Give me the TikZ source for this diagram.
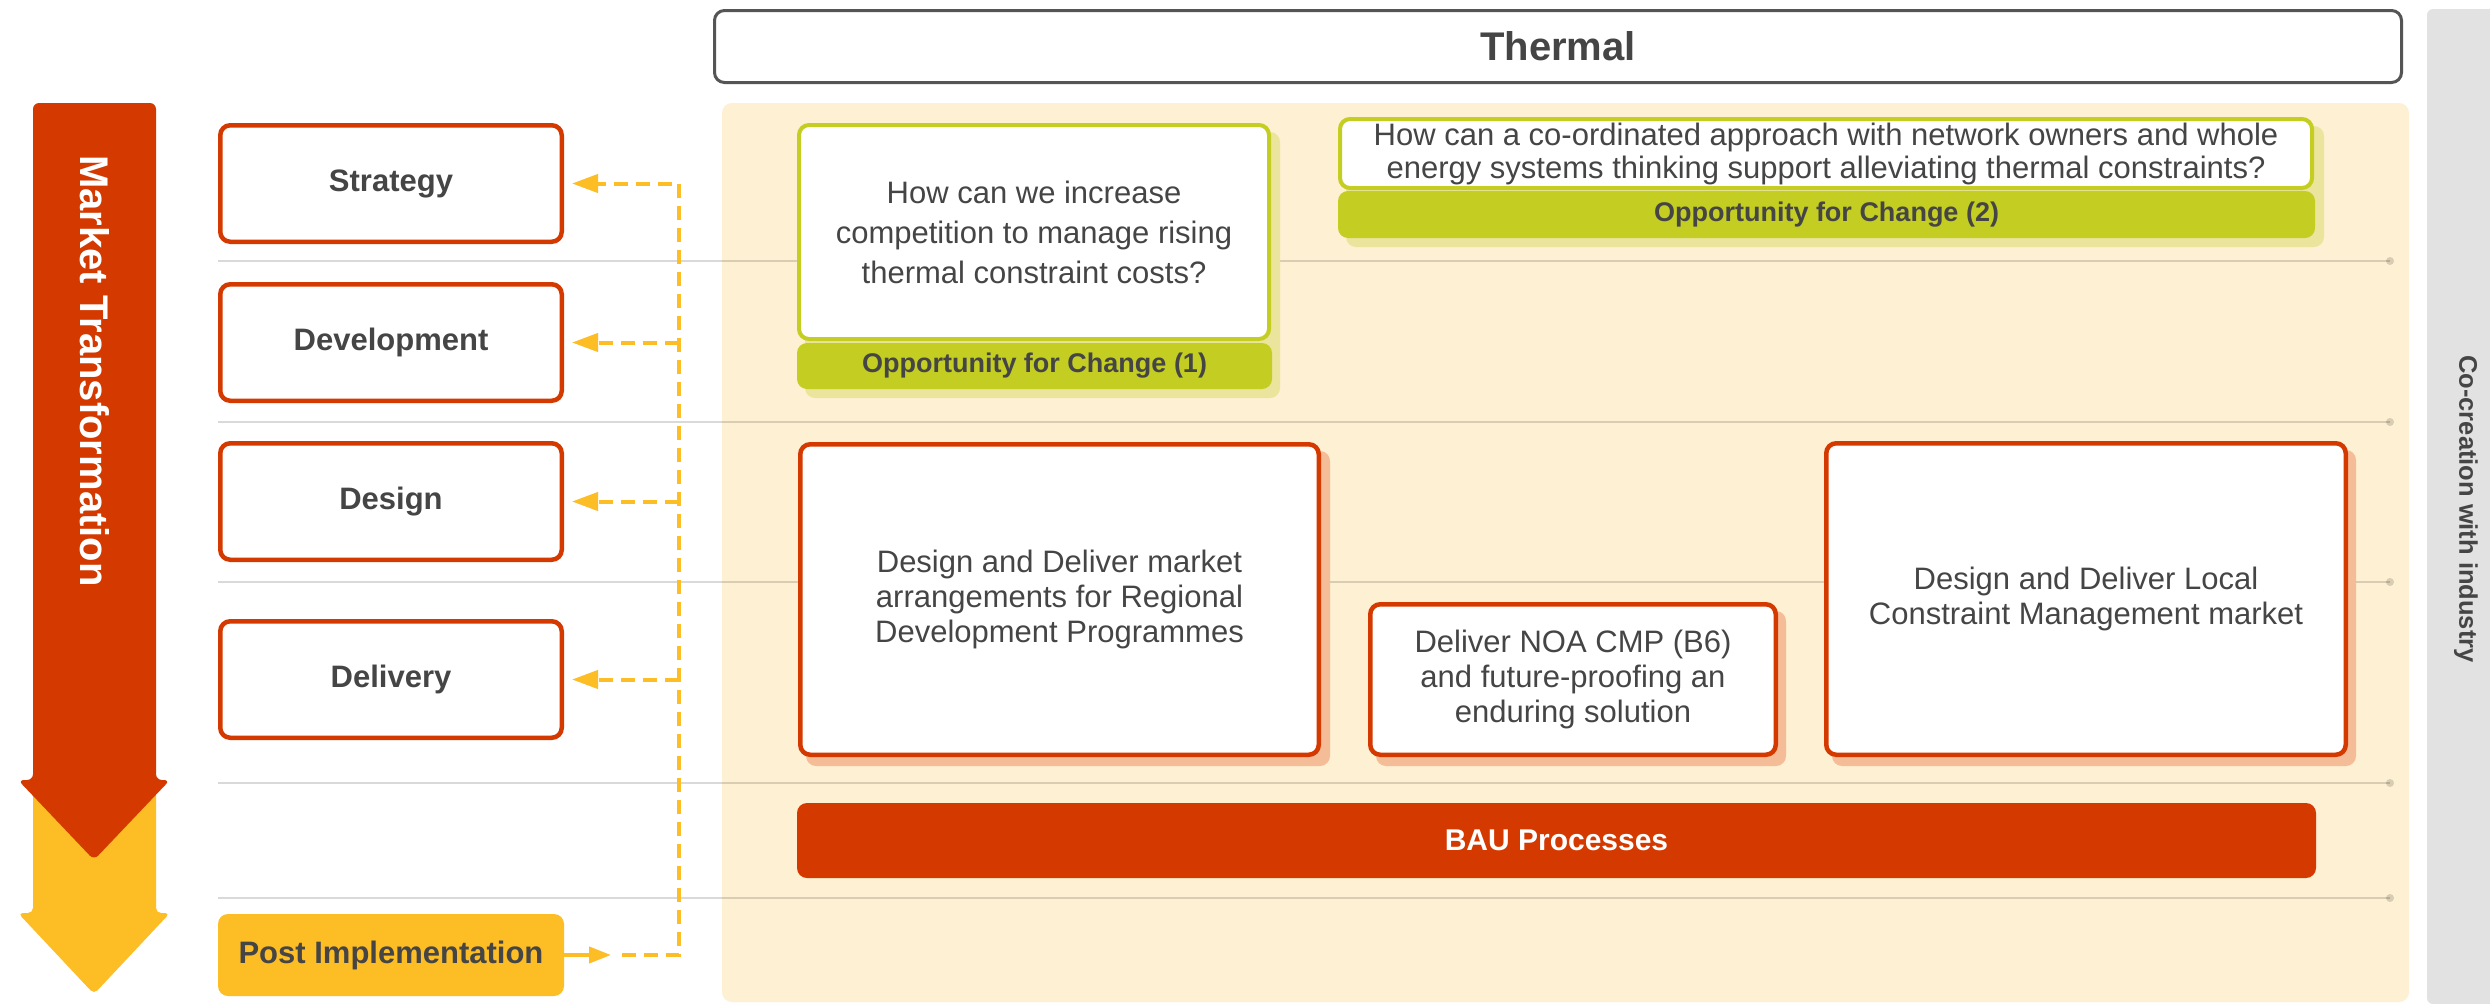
\documentclass[tikz,border=0pt]{standalone}
\usepackage{fontspec}
\setmainfont{Liberation Sans}
\setsansfont{Liberation Sans}
\usetikzlibrary{arrows.meta}
\definecolor{mred}{HTML}{D43900}
\definecolor{myel}{HTML}{FDBD24}
\definecolor{cream}{HTML}{FEF0D2}
\definecolor{mgreen}{HTML}{C3CD22}
\definecolor{shgreen}{HTML}{EBE49C}
\definecolor{shred}{HTML}{F5BC98}
\definecolor{barg}{HTML}{E2E2E2}
\definecolor{txt}{HTML}{454545}
\definecolor{thb}{HTML}{555555}
\begin{document}
\begin{tikzpicture}[x=1pt,y=-1pt,
  stagebox/.style={draw=mred, line width=4.5pt, fill=white, rounded corners=10pt,
    minimum width=341.5pt, minimum height=116.5pt, inner sep=0pt,
    font=\bfseries\fontsize{31}{37}\selectfont, text=txt},
  oppbox/.style={draw=mgreen, line width=4pt, fill=white, rounded corners=10pt,
    inner sep=0pt, align=center, text=txt},
  opplabel/.style={fill=mgreen, rounded corners=10pt, inner sep=0pt,
    font=\bfseries\fontsize{27}{30}\selectfont, text=txt},
  actbox/.style={draw=mred, line width=4.5pt, fill=white, rounded corners=10pt,
    inner sep=0pt, align=center, text=txt, font=\fontsize{31}{35}\selectfont},
  gline/.style={line width=2.5pt, draw=black, draw opacity=0.15},
  gdot/.style={fill=black, fill opacity=0.15},
  dashy/.style={draw=myel, line width=4pt, dash pattern=on 14pt off 8pt},
  tipy/.style={-{Triangle[length=26pt,width=18pt]}},
]
\useasboundingbox (0,0) rectangle (2490,1004);
\fill[white] (0,0) rectangle (2490,1004);

% right bar
\fill[barg, rounded corners=6pt] (2427,9) rectangle (2500,1004);
\node[rotate=-90, text=txt, font=\bfseries\fontsize{25.5}{30}\selectfont] (cocr) at (2466,509) {Co-creation with industry};

% cream background
\fill[cream, rounded corners=10pt] (722,103) rectangle (2409,1002);

% grey swimlane lines
\foreach \yy in {261,422,582,783,898}{
  \draw[gline] (218,\yy) -- (2390,\yy);
  \fill[gdot] (2390,\yy) circle (4);
}

% Thermal header
\node[draw=thb, line width=3pt, fill=white, rounded corners=10pt, minimum width=1687pt,
  minimum height=72pt, inner sep=0pt, text=txt, font=\bfseries\fontsize{40}{46}\selectfont]
  (thermal) at (1558,46.5) {Thermal};

% Market transformation arrow
\fill[myel, rounded corners=5pt] (33,790) -- (33,913) -- (18,913) -- (94,994) -- (170,913) -- (156,913) -- (156,790) -- cycle;
\fill[mred, rounded corners=6pt] (33,780) -- (33,103) -- (156,103) -- (156,780) -- (170,780) -- (94,860) -- (18,780) -- cycle;
\node[rotate=-90, text=white, font=\bfseries\fontsize{40}{46}\selectfont] (mt) at (95,371) {Market Transformation};

% stage boxes
\node[stagebox] (strat) at (391,183.5) {Strategy};
\node[stagebox] (devel) at (391,342.5) {Development};
\node[stagebox] (design) at (391,501.5) {Design};
\node[stagebox] (deliv) at (391,679.5) {Delivery};
\node[fill=myel, rounded corners=10pt, minimum width=346pt, minimum height=82pt, inner sep=0pt,
  text=txt, font=\bfseries\fontsize{31}{37}\selectfont] (post) at (391,955) {Post Implementation};

% feedback connectors
\coordinate (pa) at (611,955);
\coordinate (pd) at (622,955);
\coordinate (jb) at (679,955);
\coordinate (jt) at (679,183.5);
\draw[myel, line width=4pt, -{Triangle[length=22pt,width=16pt]}] (post.east) -- (pa);
\draw[dashy, tipy, shorten >=8pt] (pd) -- (jb) -- (jt) -- (strat.east);
\draw[dashy, tipy, shorten >=8pt] (jb |- devel.east) -- (devel.east);
\draw[dashy, tipy, shorten >=8pt] (jb |- design.east) -- (design.east);
\draw[dashy, tipy, shorten >=8pt] (jb |- deliv.east) -- (deliv.east);

% Opportunity 1
\fill[shgreen, rounded corners=10pt] (805,132) rectangle (1280,398);
\node[oppbox, minimum width=470pt, minimum height=214pt, font=\fontsize{31}{40}\selectfont]
  (opp1) at (1034,232) {How can we increase\\competition to manage rising\\thermal constraint costs?};
\node[opplabel, minimum width=475pt, minimum height=46pt] (opp1l) at (1034.5,366) {Opportunity for Change (1)};

% Opportunity 2
\fill[shgreen, rounded corners=10pt] (1346,126) rectangle (2324,247);
\node[oppbox, minimum width=972pt, minimum height=69pt, font=\fontsize{31}{33}\selectfont]
  (opp2) at (1826,153.5) {How can a co-ordinated approach with network owners and whole\\energy systems thinking support alleviating thermal constraints?};
\node[opplabel, minimum width=977pt, minimum height=47pt] (opp2l) at (1826.5,214.5) {Opportunity for Change (2)};

% activity boxes
\fill[shred, rounded corners=10pt] (806,451) rectangle (1330,766);
\fill[shred, rounded corners=10pt] (1376,611) rectangle (1786,766);
\fill[shred, rounded corners=10pt] (1832,450) rectangle (2356,766);
\node[actbox, minimum width=518.5pt, minimum height=310.5pt] (rdp) at (1059.5,599.5)
  {Design and Deliver market\\arrangements for Regional\\Development Programmes};
\node[actbox, minimum width=405.5pt, minimum height=150.5pt] (noa) at (1573,679.5)
  {Deliver NOA CMP (B6)\\and future-proofing an\\enduring solution};
\node[actbox, minimum width=519.5pt, minimum height=311.5pt] (lcm) at (2086,599)
  {Design and Deliver Local\\Constraint Management market};

% BAU
\node[fill=mred, rounded corners=10pt, minimum width=1519pt, minimum height=75pt, inner sep=0pt,
  text=white, font=\bfseries\fontsize{30}{36}\selectfont] (bau) at (1556.5,840.5) {BAU Processes};
\end{tikzpicture}
\end{document}
